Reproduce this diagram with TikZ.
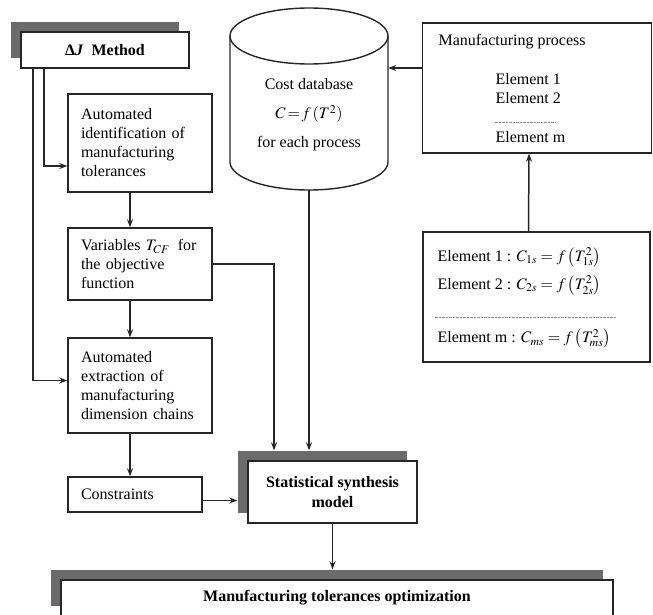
\documentclass[tikz,border=0pt]{standalone}
\usepackage{mathptmx}
\usepackage{fontspec}
\setmainfont{Liberation Serif}
\usetikzlibrary{positioning,arrows.meta,shadows}

\tikzset{
  box/.style={draw=black!85, line width=1.4pt, fill=white, inner xsep=13pt, inner ysep=4pt},
  leftbox/.style={box, align=left, text width=118pt},
  shadowbox/.style={box, align=center, font=\fontsize{16}{20}\selectfont\bfseries,
    drop shadow={shadow xshift=-10pt, shadow yshift=10pt, fill=black!58, opacity=1}},
  arr/.style={-{Stealth[length=8pt,width=6pt]}, line width=1.5pt, draw=black!85},
  dots/.style={draw=black!45, line width=0.7pt, dash pattern=on 2.5pt off 1pt},
}

\begin{document}
\fontsize{16}{19}\selectfont
\begin{tikzpicture}[x=1pt, y=-1pt]
  \useasboundingbox (0,0) rectangle (653,615);

  % left column
  \node[shadowbox, minimum width=168pt, minimum height=36pt] (dj) at (105,50) {Δ\textit{J}\ \ Method};
  \node[leftbox, minimum height=98pt] (ident) at (140,143) {Automated\\identification of\\manufacturing\\tolerances};
  \node[leftbox, minimum height=72pt] (vars) at (140,264) {Variables $T_{CF}$\, for\\the objective\\function};
  \node[leftbox, minimum height=95pt] (extract) at (140,385.5) {Automated\\extraction of\\manufacturing\\dimension chains};
  \node[leftbox, text width=108pt, minimum height=35pt] (cons) at (135,494.5) {Constraints};

  % cost database
  \node[align=center, minimum width=158pt, minimum height=150pt] (cdb) at (309,115)
    {Cost database\\[10pt]$C\!=\!f\,(T^{2})$\\[10pt]for each process};
  \draw[line width=1.4pt, draw=black!85] (230,36) -- (230,162)
    arc[start angle=180, end angle=0, x radius=79, y radius=28] -- (388,36);
  \draw[line width=1.4pt, draw=black!85] (309,36) ellipse[x radius=79, y radius=28];

  % right column
  \node[box, minimum width=229pt, minimum height=130pt] (mp) at (537,88) {};
  \node[anchor=west] (mptitle) at (433,42) {Manufacturing process};
  \node[anchor=west, align=left] (mpel) at (490,108) {Element 1\\Element 2\\[20pt]Element m};
  \draw[dots] (495,122) -- (555,122);

  \node[box, minimum width=227pt, minimum height=130pt] (eq) at (536.5,297) {};
  \node[anchor=west, align=left] (eqtext) at (432,298)
    {Element 1 : $C_{1s} = f\left(T_{1s}^{2}\right)$\\[8pt]
     Element 2 : $C_{2s} = f\left(T_{2s}^{2}\right)$\\[33pt]
     Element m : $C_{ms} = f\left(T_{ms}^{2}\right)$\,};
  \draw[dots] (435,317) -- (617,317);

  % synthesis and result
  \node[shadowbox, minimum width=169pt, minimum height=62pt] (stat) at (332.5,492) {Statistical synthesis\\model};
  \node[shadowbox, minimum width=552pt, minimum height=36pt] (opt) at (337,598) {Manufacturing tolerances optimization};

  \coordinate (stattop) at ([yshift=10pt]stat.north);
  \coordinate (opttop) at ([yshift=10pt]opt.north);
  \coordinate (mpout) at ([yshift=20pt]mp.west);

  % connectors
  \draw[arr] ([xshift=-61pt]dj.south) |- ([yshift=-23pt]ident.west);
  \draw[arr] ([xshift=-72pt]dj.south) |- ([yshift=5pt]extract.west);
  \draw[arr] ([xshift=-10pt]ident.south) -- ([xshift=-10pt]vars.north);
  \draw[arr] ([xshift=-10pt]vars.south) -- ([xshift=-10pt]extract.north);
  \draw[arr] ([xshift=-10pt]extract.south) -- ([xshift=-5pt]cons.north);
  \draw[arr] ([yshift=-6pt]cons.east) -- ([xshift=-10pt,yshift=-8.5pt]stat.west);
  \draw[arr] (vars.east) -| ([xshift=-58.5pt]stattop);
  \draw[arr] (cdb.south) -- (cdb.south |- stattop);
  \draw[arr] (mpout) -- (mpout -| cdb.east);
  \draw[arr] ([xshift=-8pt]eq.north) -- ([xshift=-8pt]mp.south);
  \draw[arr] (stat.south) -- (stat.south |- opttop);
\end{tikzpicture}
\end{document}
